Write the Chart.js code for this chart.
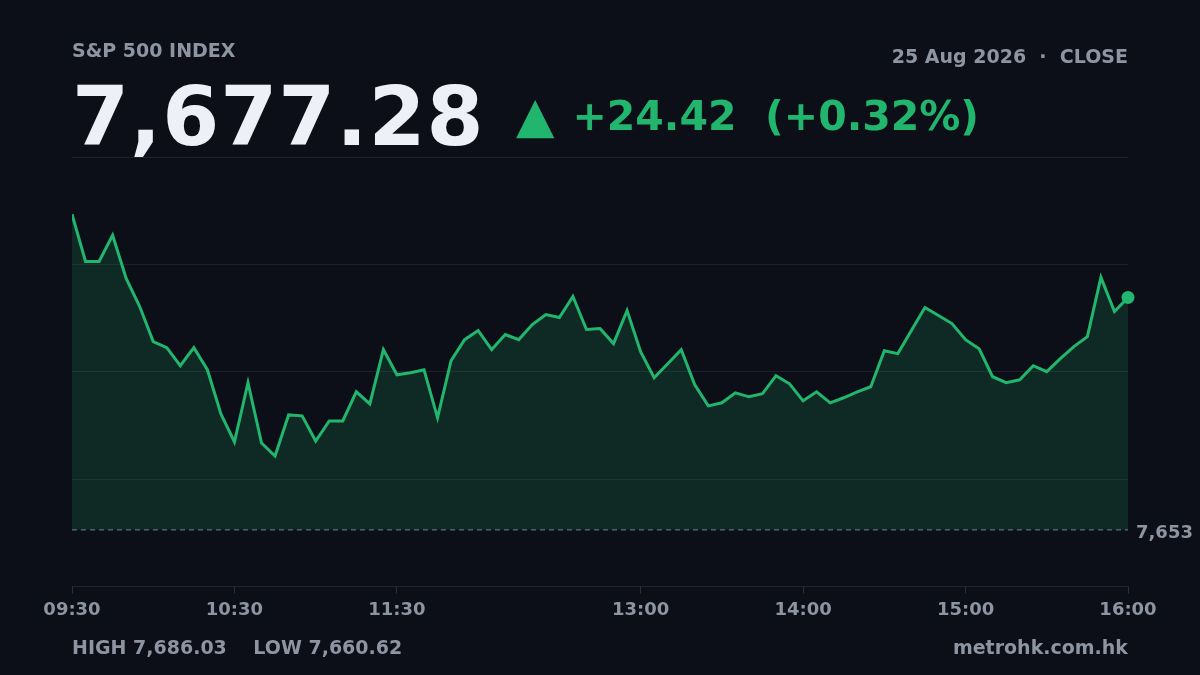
<!DOCTYPE html>
<html>
<head>
<meta charset="utf-8">
<script src="https://cdn.jsdelivr.net/npm/chart.js@4"></script>
<style>
  body { margin: 0; background: #0c0f17; font-family: "DejaVu Sans", sans-serif; }
  #wrap { position: relative; width: 1200px; height: 675px; overflow: hidden; }
  canvas { position: absolute; left: 0; top: 0; }
  .t { position: absolute; font-weight: bold; white-space: nowrap; }
</style>
</head>
<body>
<div id="wrap">
  <canvas id="c" width="1200" height="675"></canvas>
  <div class="t" style="left:72px;top:39px;font-size:19px;color:#8d95a3;">S&amp;P 500 INDEX</div>
  <div class="t" style="right:72px;top:45px;font-size:19px;color:#8d95a3;">25 Aug 2026 &nbsp;·&nbsp; CLOSE</div>
  <div class="t" style="left:72px;top:69px;font-size:82px;color:#eef0f7;letter-spacing:1px;">7,677.28</div>
  <div class="t" style="left:516px;top:84px;font-size:41px;color:#22b56d;"><span style="font-size:50px;position:relative;top:2px">▲</span><span style="margin-left:18px">+24.42 &nbsp;(+0.32%)</span></div>
  <div class="t" style="left:72px;top:636px;font-size:19px;color:#8d95a3;">HIGH 7,686.03 &nbsp;&nbsp;&nbsp;LOW 7,660.62</div>
  <div class="t" style="right:72px;top:636px;font-size:19px;color:#8d95a3;">metrohk.com.hk</div>
</div>
<script>
// minutes since 09:30, one point every 5 min
const minutes = Array.from({ length: 79 }, (_, i) => i * 5);
const prices = [
  7686.03, 7681.07, 7681.07, 7683.82, 7679.28, 7676.33, 7672.64, 7672.01, 7670.11, 7672.01,
  7669.69, 7665.05, 7662.10, 7668.32, 7661.99, 7660.62, 7664.94, 7664.84, 7662.20, 7664.31,
  7664.31, 7667.37, 7666.10, 7671.80, 7669.16, 7669.37, 7669.69, 7664.63, 7670.64, 7672.85,
  7673.80, 7671.80, 7673.38, 7672.85, 7674.43, 7675.49, 7675.17, 7677.38, 7673.91, 7674.01,
  7672.43, 7675.91, 7671.59, 7668.84, 7670.32, 7671.80, 7668.11, 7665.89, 7666.21, 7667.26,
  7666.84, 7667.16, 7669.06, 7668.21, 7666.42, 7667.37, 7666.21, 7666.74, 7667.37, 7667.90,
  7671.69, 7671.38, 7673.80, 7676.23, 7675.38, 7674.54, 7672.85, 7671.90, 7668.95, 7668.32,
  7668.63, 7670.11, 7669.48, 7670.85, 7672.11, 7673.17, 7679.39, 7675.80, 7677.28
];
const tickMinutes = [0, 60, 120, 210, 270, 330, 390];
const tickLabels = ['09:30', '10:30', '11:30', '13:00', '14:00', '15:00', '16:00'];
const prevClose = 7652.86;
const prevCloseLabel = '7,653';

const green = '#22b56d';
const muted = '#8d95a3';

const prevClosePlugin = {
  id: 'prevClose',
  afterDatasetsDraw(chart) {
    const { ctx, chartArea, scales } = chart;
    const y = scales.y.getPixelForValue(prevClose);
    ctx.save();
    ctx.strokeStyle = '#7b8290';
    ctx.lineWidth = 1;
    ctx.setLineDash([5, 4]);
    ctx.beginPath();
    ctx.moveTo(chartArea.left, y);
    ctx.lineTo(chartArea.right, y);
    ctx.stroke();
    ctx.setLineDash([]);
    ctx.fillStyle = muted;
    ctx.font = 'bold 18px "DejaVu Sans"';
    ctx.textBaseline = 'middle';
    ctx.fillText(prevCloseLabel, chartArea.right + 8, y + 3);
    // closing dot
    const last = chart.getDatasetMeta(0).data[prices.length - 1];
    ctx.fillStyle = green;
    ctx.beginPath();
    ctx.arc(last.x, last.y, 6.5, 0, Math.PI * 2);
    ctx.fill();
    ctx.restore();
  }
};

new Chart(document.getElementById('c'), {
  type: 'line',
  data: {
    datasets: [{
      data: minutes.map((m, i) => ({ x: m, y: prices[i] })),
      borderColor: green,
      borderWidth: 3,
      backgroundColor: 'rgba(34,181,109,0.16)',
      fill: { value: prevClose },
      pointRadius: 0,
      tension: 0
    }]
  },
  options: {
    responsive: false,
    animation: false,
    layout: { padding: { left: 72, right: 72, top: 157, bottom: 48 } },
    plugins: { legend: { display: false }, tooltip: { enabled: false } },
    scales: {
      x: {
        type: 'linear', min: 0, max: 390,
        afterBuildTicks(s) { s.ticks = tickMinutes.map(v => ({ value: v })); },
        ticks: {
          autoSkip: false, maxRotation: 0, padding: 6,
          color: muted, font: { family: 'DejaVu Sans', size: 18, weight: 'bold' },
          callback: (v) => tickLabels[tickMinutes.indexOf(v)]
        },
        grid: { drawOnChartArea: false, color: '#2a2f3a', tickLength: 7 },
        border: { color: '#1f2430' }
      },
      y: {
        min: 7646.92, max: 7692.04,
        afterBuildTicks(s) { s.ticks = [0, 1, 2, 3, 4].map(k => ({ value: 7646.92 + k * 11.28 })); },
        ticks: { display: false },
        grid: { color: '#1c212b', drawTicks: false },
        border: { display: false }
      }
    }
  },
  plugins: [prevClosePlugin]
});
</script>
</body>
</html>
